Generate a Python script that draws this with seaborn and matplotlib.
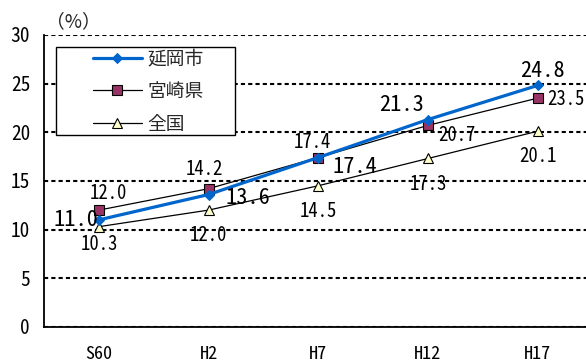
import numpy as np
import matplotlib
matplotlib.use("Agg")
import matplotlib.pyplot as plt
from matplotlib.patches import Rectangle
import seaborn as sns

# ---- data ----
categories = ["S60", "H2", "H7", "H12", "H17"]
nobeoka = [11.0, 13.6, 17.4, 21.3, 24.8]
miyazaki = [12.0, 14.2, 17.4, 20.7, 23.5]
zenkoku = [10.3, 12.0, 14.5, 17.3, 20.1]
series_names = ["延岡市", "宮崎県", "全国"]
yticks = [0, 5, 10, 15, 20, 25, 30]
unit_label = "（%）"

# ---- style ----
sns.set_theme(style="white")
plt.rcParams['font.family'] = ['Noto Sans Mono CJK JP', 'Noto Sans CJK JP', 'DejaVu Sans']

W, H = 586, 361
fig = plt.figure(figsize=(W / 100, H / 100), dpi=100)
ax = fig.add_axes([44 / W, (H - 327) / H, 548.5 / W, 292.2 / H])

x = np.arange(len(categories))

sns.lineplot(x=x, y=nobeoka, ax=ax, sort=False, color="#0066CC", lw=2.3,
             marker="D", markersize=5.5, markeredgecolor="#0066CC",
             label=series_names[0], zorder=4)
sns.lineplot(x=x, y=miyazaki, ax=ax, sort=False, color="black", lw=0.9,
             marker="s", markersize=6.5, markerfacecolor="#993366",
             markeredgecolor="black", markeredgewidth=0.8,
             label=series_names[1], zorder=3)
sns.lineplot(x=x, y=zenkoku, ax=ax, sort=False, color="black", lw=0.9,
             marker="^", markersize=7.5, markerfacecolor="#FFFFCC",
             markeredgecolor="black", markeredgewidth=0.8,
             label=series_names[2], zorder=3)

# ---- axes ----
ax.set_xlim(-0.5, 4.5)
ax.set_ylim(0, 30)
ax.set_axisbelow(True)
ax.yaxis.grid(True, color="black", linestyle=(0, (2, 1.5)), linewidth=1.5)
ax.xaxis.grid(False)
for s in ["top", "right"]:
    ax.spines[s].set_visible(False)
for s in ["left", "bottom"]:
    ax.spines[s].set_color("black")
    ax.spines[s].set_linewidth(1.3)

ax.set_xticks(x, categories)
ax.set_xticks(np.arange(0.5, 4.5, 1), minor=True)
ax.tick_params(axis="x", which="major", length=0, pad=13, labelsize=13, labelcolor="black")
ax.tick_params(axis="x", which="minor", direction="in", length=4, width=1, color="black")
ax.set_yticks(yticks)
ax.tick_params(axis="y", length=0, pad=10, labelsize=14, labelcolor="black")
ax.set_xlabel("")
ax.set_ylabel("")

# ---- data labels ----
off_nob = [(-23, 0), (39, -3), (37, -9), (-26, 15), (5, 14)]
off_miy = [(10, 17), (-4, 19), (-6, 15), (29, -10), (28, -1)]
off_zen = [(1, -18), (0, -25), (0, -26), (0, -26), (0, -25)]

for vals, offs, fs in [(nobeoka, off_nob, 16), (miyazaki, off_miy, 13.5), (zenkoku, off_zen, 13.5)]:
    for xi, v, o in zip(x, vals, offs):
        ax.annotate(f"{v:.1f}", xy=(xi, v), xytext=o, textcoords="offset pixels",
                    ha="center", va="center", fontsize=fs, color="black",
                    zorder=6, annotation_clip=False)

# ---- legend ----
ax.add_patch(Rectangle(((56 - 44) / 548.5, (327 - 135) / 292.2),
                       (235 - 56) / 548.5, (135 - 47) / 292.2,
                       transform=ax.transAxes, facecolor="white",
                       edgecolor="black", lw=1, zorder=1.5))
handles, labels = ax.get_legend_handles_labels()
ax.legend(handles, labels, loc="center left", bbox_to_anchor=(0.0893, 0.806),
          frameon=False, borderpad=0, borderaxespad=0, handlelength=2.6,
          handletextpad=0.3, labelspacing=0.62,
          prop={"family": ["Noto Sans CJK JP"], "size": 13.5})

fig.text(73 / W, 1 - 22 / H, unit_label, ha="center", va="center", fontsize=13.5,
         family=["Noto Sans CJK JP", "DejaVu Sans"])

fig.savefig("out.png", dpi=100)
